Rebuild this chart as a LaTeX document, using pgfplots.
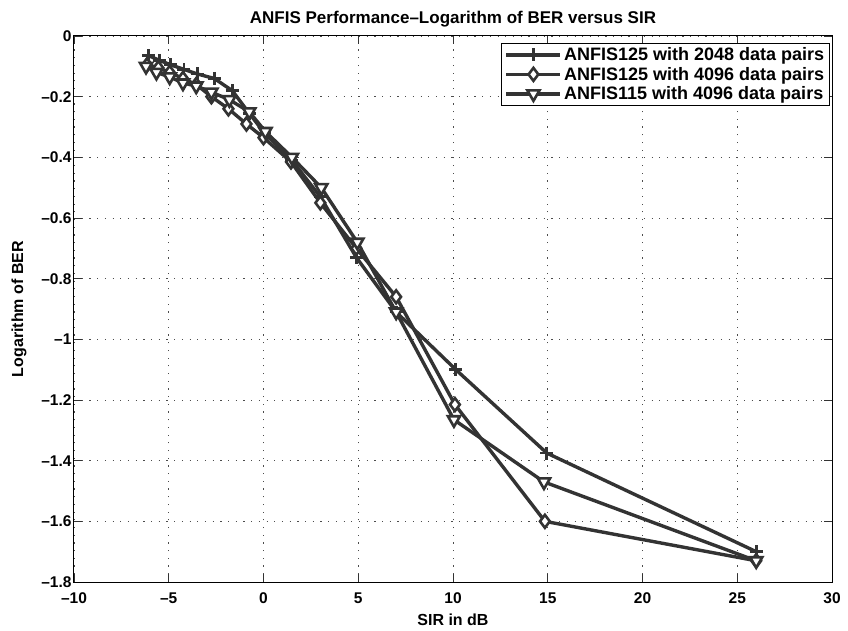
\documentclass[border=0pt]{standalone}
\usepackage{fontspec}
\setmainfont{Liberation Sans}
\usepackage{pgfplots}
\pgfplotsset{compat=1.18}
\definecolor{ln}{HTML}{333333}
\begin{document}
\begin{tikzpicture}
\begin{axis}[
  at={(0,0)}, anchor=south west,
  scale only axis, width=758pt, height=546pt,
  xmin=-10, xmax=30, ymin=-1.8, ymax=0,
  xtick={-10,-5,0,5,10,15,20,25,30},
  xticklabels={\textendash10,\textendash5,0,5,10,15,20,25,30},
  ytick={-1.8,-1.6,-1.4,-1.2,-1,-0.8,-0.6,-0.4,-0.2,0},
  yticklabels={\textendash1.8,\textendash1.6,\textendash1.4,\textendash1.2,\textendash1,\textendash0.8,\textendash0.6,\textendash0.4,\textendash0.2,0},
  tick label style={font=\fontsize{15.5}{17}\selectfont\bfseries},
  xticklabel style={yshift=-7pt},
  yticklabel style={xshift=1pt},
  tick align=inside, major tick length=8pt,
  tick style={black!80, line width=0.8pt},
  axis line style={black, line width=1pt},
  grid=major,
  major grid style={black!70, dash pattern=on 1.2pt off 6.5pt, line width=0.9pt},
  title={\fontsize{17}{19}\selectfont\bfseries ANFIS Performance\textendash Logarithm of BER versus SIR},
  title style={yshift=-1pt},
  xlabel={\fontsize{16}{18}\selectfont\bfseries SIR in dB},
  ylabel={\fontsize{16}{18}\selectfont\bfseries Logarithm of BER},
  xlabel style={yshift=-4pt},
  ylabel style={yshift=8pt},
  legend style={at={(rel axis cs:0.997,0.987)}, anchor=north east,
    draw=black, line width=0.9pt, font=\fontsize{18}{20}\selectfont\bfseries,
    inner xsep=3pt, inner ysep=2pt, row sep=1pt},
  legend cell align=left,
  legend image code/.code={
    \draw[#1, line width=3.4pt] (0cm,0cm) -- (1.9cm,0cm);
    \draw[#1, line width=3.4pt, mark repeat=2, mark phase=2] plot coordinates {(0cm,0cm) (0.95cm,0cm) (1.9cm,0cm)};
  },
]
\addplot[ln, line width=3.4pt, mark=+, mark size=6.5pt, mark options={solid, line width=2.8pt}] coordinates {
 (-6.05,-0.065) (-5.5,-0.08) (-4.9,-0.095) (-4.2,-0.11) (-3.5,-0.125) (-2.6,-0.14)
 (-1.65,-0.18) (-0.75,-0.255) (0.05,-0.32) (1.5,-0.41) (3,-0.53) (4.9,-0.73)
 (7,-0.91) (10.15,-1.10) (14.95,-1.375) (26,-1.70)
};
\addlegendentry{ANFIS125 with 2048 data pairs}
\addplot[ln, line width=3.4pt, mark=diamond*, mark size=6.5pt, mark options={solid, fill=white, line width=2.6pt}] coordinates {
 (-6.15,-0.095) (-5.55,-0.105) (-4.95,-0.12) (-4.25,-0.14) (-3.55,-0.16) (-2.75,-0.20)
 (-1.85,-0.24) (-0.9,-0.29) (0.0,-0.335) (1.45,-0.415) (3,-0.55) (4.9,-0.70)
 (7,-0.86) (10.1,-1.215) (14.85,-1.60) (26,-1.73)
};
\addlegendentry{ANFIS125 with 4096 data pairs}
\addplot[ln, line width=3.4pt, mark=triangle*, mark size=7pt, mark options={solid, fill=white, rotate=180, line width=2.6pt}] coordinates {
 (-6.2,-0.10) (-5.65,-0.12) (-4.95,-0.135) (-4.25,-0.155) (-3.55,-0.165) (-2.75,-0.185)
 (-1.8,-0.21) (-0.75,-0.25) (0.1,-0.315) (1.5,-0.40) (3.05,-0.50) (4.95,-0.68)
 (7,-0.91) (10.05,-1.265) (14.8,-1.47) (26,-1.73)
};
\addlegendentry{ANFIS115 with 4096 data pairs}
\end{axis}
\pgfresetboundingbox
\path (-74pt,-48pt) rectangle (774pt,582pt);
\end{tikzpicture}
\end{document}
